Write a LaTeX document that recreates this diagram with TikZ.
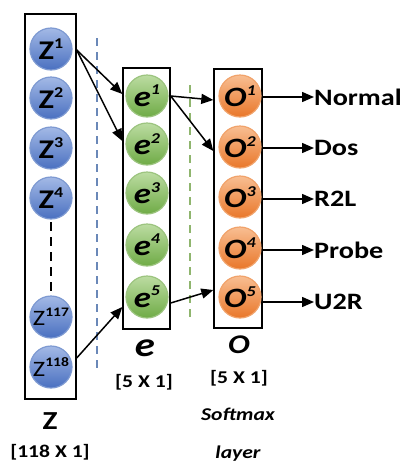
\documentclass[tikz,border=0pt]{standalone}
\usepackage{fontspec}
\setmainfont{Carlito}[FakeStretch=1.2]
\usetikzlibrary{arrows.meta,calc}
\definecolor{bTop}{HTML}{A3B9E6}
\definecolor{bBot}{HTML}{4A70C0}
\definecolor{bEdge}{HTML}{7E9AD2}
\definecolor{gTop}{HTML}{BCDCA2}
\definecolor{gBot}{HTML}{6FAB46}
\definecolor{gEdge}{HTML}{9CC47F}
\definecolor{oTop}{HTML}{F8BE92}
\definecolor{oBot}{HTML}{E9772A}
\definecolor{oEdge}{HTML}{F1A36B}
\definecolor{bDash}{HTML}{6A88B8}
\definecolor{gDash}{HTML}{8FB56E}
\newcommand{\suplab}[1]{\raisebox{0.4em}{\fontsize{15}{15}\selectfont #1}}
\tikzset{
  unit/.style={circle, minimum size=42pt, inner sep=0pt, line width=1.2pt},
  zunit/.style={unit, draw=bEdge, top color=bTop, bottom color=bBot,
    font=\fontsize{27}{27}\selectfont\bfseries},
  zsmall/.style={unit, draw=bEdge, top color=bTop, bottom color=bBot,
    font=\fontsize{22}{22}\selectfont},
  eunit/.style={unit, draw=gEdge, top color=gTop, bottom color=gBot,
    font=\fontsize{29}{29}\selectfont\bfseries\itshape},
  ounit/.style={unit, draw=oEdge, top color=oTop, bottom color=oBot,
    font=\fontsize{28}{28}\selectfont\bfseries\itshape},
  layerbox/.style={draw, line width=1.4pt, inner sep=0pt},
  conn/.style={line width=1.5pt, -{Triangle[length=12pt,width=10pt]}},
  outlab/.style={anchor=west, inner sep=0pt, font=\fontsize{23.5}{23.5}\selectfont\bfseries},
  namelab/.style={inner sep=0pt, font=\fontsize{26}{26}\selectfont\bfseries},
  dimlab/.style={inner sep=0pt, font=\fontsize{18}{18}\selectfont\bfseries},
}
\begin{document}
\begin{tikzpicture}[x=1pt,y=-1pt]
\useasboundingbox (0,0) rectangle (401,461);
% layer boxes
\node[layerbox, minimum width=51pt, minimum height=385pt] (zbox) at (50.5,206.5) {};
\node[layerbox, minimum width=47pt, minimum height=261pt] (ebox) at (146.5,198.5) {};
\node[layerbox, minimum width=48pt, minimum height=259pt] (obox) at (238,198.5) {};
% dashed separators
\coordinate (bd1) at (97,38);
\coordinate (bd2) at (97,373);
\coordinate (gd1) at (190,85);
\coordinate (gd2) at (190,317);
\draw[bDash, line width=2pt, dash pattern=on 8pt off 6pt] (bd1) -- (bd2);
\draw[gDash, line width=2pt, dash pattern=on 8pt off 6pt] (gd1) -- (gd2);
% Z units
\node[zunit] (z1) at (51,49) {Z\suplab{1}};
\node[zunit] (z2) at (51,98) {Z\suplab{2}};
\node[zunit] (z3) at (51,148) {Z\suplab{3}};
\node[zunit] (z4) at (51,198) {Z\suplab{4}};
\node[zsmall] (z117) at (51,317) {Z\raisebox{0.42em}{\fontsize{13}{13}\selectfont\bfseries 117}};
\node[zsmall] (z118) at (51,367) {Z\raisebox{0.42em}{\fontsize{13}{13}\selectfont\bfseries 118}};
\coordinate (zd1) at (51,222);
\coordinate (zd2) at (51,292);
\draw[line width=2pt, dash pattern=on 9pt off 6pt] (zd1) -- (zd2);
% e units
\node[eunit] (e1) at (147,96) {e\suplab{1}};
\node[eunit] (e2) at (147,144) {e\suplab{2}};
\node[eunit] (e3) at (147,193) {e\suplab{3}};
\node[eunit] (e4) at (147,245) {e\suplab{4}};
\node[eunit] (e5) at (147,297) {e\suplab{5}};
% O units
\node[ounit] (o1) at (240,96) {O\suplab{1}};
\node[ounit] (o2) at (240,147) {O\suplab{2}};
\node[ounit] (o3) at (240,197) {O\suplab{3}};
\node[ounit] (o4) at (240,248) {O\suplab{4}};
\node[ounit] (o5) at (240,297) {O\suplab{5}};
% connections
\draw[conn] ($(zbox.east |- z1)+(0,1)$) -- ($(ebox.west |- e1)+(0,-2)$);
\draw[conn] ($(zbox.east |- z1)+(0,1)$) -- ($(ebox.west |- e2)+(0,-3)$);
\draw[conn] ($(zbox.east |- z118)+(0,-9)$) -- ($(ebox.west |- e5)+(0,10)$);
\draw[conn] (ebox.east |- e1) -- ($(obox.west |- o1)+(0,4)$);
\draw[conn] (ebox.east |- e1) -- ($(obox.west |- o2)+(0,4)$);
\draw[conn] ($(ebox.east |- e5)+(0,6)$) -- ($(obox.west |- o5)+(0,-7)$);
% outputs
\node[outlab] (normal) at (314,97) {Normal};
\node[outlab] (dos) at (314,148) {Dos};
\node[outlab] (r2l) at (314,199) {R2L};
\node[outlab] (probe) at (314,250) {Probe};
\node[outlab] (u2r) at (314,302) {U2R};
\draw[conn] (obox.east |- normal) -- (normal.west);
\draw[conn] (obox.east |- dos) -- (dos.west);
\draw[conn] (obox.east |- r2l) -- (r2l.west);
\draw[conn] (obox.east |- probe) -- (probe.west);
\draw[conn] (obox.east |- u2r) -- (u2r.west);
% labels
\node[namelab] (zname) at (50,421) {Z};
\node[dimlab] (zdim) at (50,452) {[118 X 1]};
\node[namelab, font=\fontsize{34}{34}\selectfont\bfseries\itshape] (ename) at (145,348) {e};
\node[dimlab] (edim) at (144,382) {[5 X 1]};
\node[namelab, font=\fontsize{27}{27}\selectfont\bfseries\itshape] (oname) at (239,345) {O};
\node[dimlab] (odim) at (239,378) {[5 X 1]};
\node[inner sep=0pt, font=\fontsize{18}{18}\selectfont\bfseries\itshape] (soft) at (238,414) {Softmax};
\node[inner sep=0pt, anchor=base, font=\fontsize{18}{18}\selectfont\bfseries\itshape] (layer) at (238,458) {layer};
\end{tikzpicture}
\end{document}
